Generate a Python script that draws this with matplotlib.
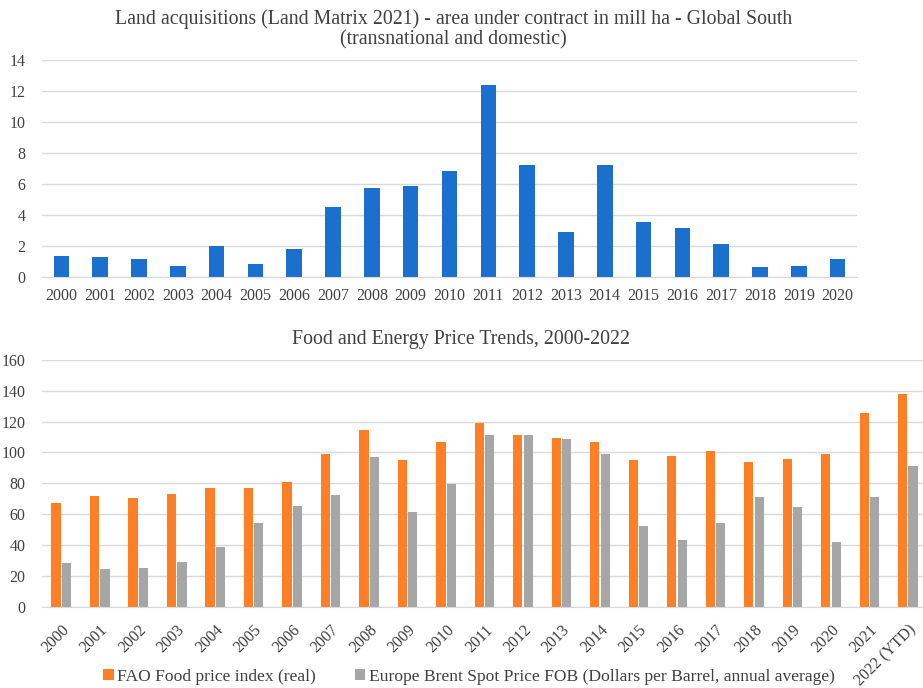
import matplotlib
matplotlib.use("Agg")
import matplotlib.pyplot as plt
import numpy as np

plt.rcParams['font.family'] = ['Liberation Serif', 'DejaVu Serif']

# top chart data
land_years = [str(y) for y in range(2000, 2021)]
land_area = [1.4, 1.3, 1.15, 0.7, 2.0, 0.85, 1.8, 4.5, 5.75, 5.85, 6.85,
             12.4, 7.25, 2.9, 7.2, 3.55, 3.15, 2.15, 0.65, 0.75, 1.2]

# bottom chart data
price_years = [str(y) for y in range(2000, 2022)] + ['2022 (YTD)']
fao_food = [67, 72, 70.5, 73, 77, 77, 81, 99, 114.5, 95, 107, 119, 111.5,
            109.5, 106.5, 95, 98, 101, 94, 95.5, 99, 125.5, 138]
brent = [28.5, 24.5, 25, 29, 38.5, 54.5, 65.5, 72.5, 97, 61.5, 79.5, 111,
         111.5, 108.5, 99, 52.5, 43.5, 54.5, 71, 64.5, 42, 71, 91.5]

BLUE = '#1a70cc'
ORANGE = '#fe7f25'
GRAY = '#a6a6a6'
GRID = '#d9d9d9'
TXT = '#404040'


def style_axes(ax):
    for s in ['top', 'right', 'left']:
        ax.spines[s].set_visible(False)
    ax.spines['bottom'].set_color(GRID)
    ax.grid(axis='y', color=GRID, linewidth=1)
    ax.set_axisbelow(True)
    ax.tick_params(length=0, labelsize=11.5, colors=TXT)
    ax.tick_params(axis='y', pad=12)


fig = plt.figure(figsize=(9.23, 6.88), dpi=100)

# top chart
ax1 = fig.add_axes([0.0455, 0.597, 0.883, 0.316])
x1 = np.arange(len(land_years))
ax1.bar(x1, land_area, width=0.4, color=BLUE)
ax1.set_xlim(-0.5, len(land_years) - 0.5)
ax1.set_ylim(0, 14)
ax1.set_yticks(range(0, 15, 2))
ax1.set_xticks(x1)
ax1.set_xticklabels(land_years)
style_axes(ax1)
ax1.tick_params(axis='x', pad=8)
fig.text(0.491, 0.986, 'Land acquisitions (Land Matrix 2021) - area under contract in mill ha - Global South\n(transnational and domestic)',
         ha='center', va='top', fontsize=14.3, color=TXT, linespacing=1.08)

# bottom chart
ax2 = fig.add_axes([0.0455, 0.118, 0.959, 0.359])
x2 = np.arange(len(price_years))
bw = 0.24
ax2.bar(x2 - bw / 2 - 0.015, fao_food, width=bw, color=ORANGE,
        label='FAO Food price index (real)')
ax2.bar(x2 + bw / 2 + 0.015, brent, width=bw, color=GRAY,
        label='Europe Brent Spot Price FOB (Dollars per Barrel, annual average)')
ax2.set_xlim(-0.5, len(price_years) - 0.5)
ax2.set_ylim(0, 160)
ax2.set_yticks(range(0, 161, 20))
ax2.set_xticks(x2)
ax2.set_xticklabels(price_years, rotation=45, ha='right', rotation_mode='anchor')
style_axes(ax2)
ax2.tick_params(axis='x', pad=11)
fig.text(0.5, 0.493, 'Food and Energy Price Trends, 2000-2022',
         ha='center', va='bottom', fontsize=14.3, color=TXT)
fig.legend(loc='center', bbox_to_anchor=(0.508, 0.016), ncol=2, frameon=False,
           fontsize=12.6, handlelength=0.6, handleheight=0.6, handletextpad=0.2,
           columnspacing=2.2, labelcolor=TXT)

fig.savefig('out.png', dpi=100)
